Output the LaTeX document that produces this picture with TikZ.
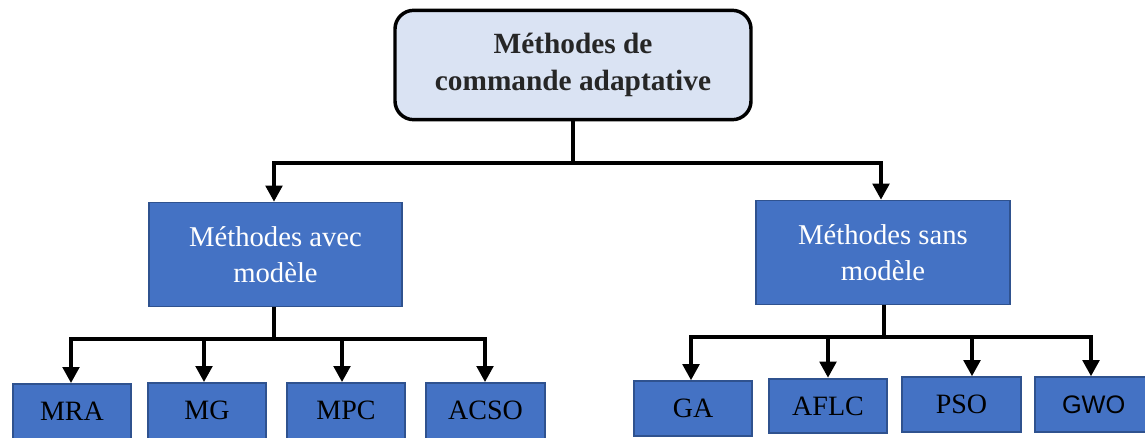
\documentclass[tikz,border=0pt]{standalone}
\usepackage{fontspec}
\setmainfont{Liberation Serif}
\newfontfamily\sansfont{Liberation Sans}
\usetikzlibrary{arrows.meta}
\definecolor{rootfill}{HTML}{DAE3F3}
\definecolor{boxfill}{HTML}{4472C4}
\definecolor{boxline}{HTML}{2F528F}
\begin{document}
\begin{tikzpicture}[x=0.75pt,y=-0.75pt,
  rootbox/.style={draw=black, fill=rootfill, line width=2.6pt, rounded corners=14pt,
    minimum width=267pt, minimum height=82pt, align=center,
    font=\fontsize{22pt}{27.5pt}\selectfont\bfseries, text=black!85},
  midbox/.style={draw=boxline, fill=boxfill, line width=1.3pt,
    minimum width=190pt, minimum height=78pt, align=center,
    font=\fontsize{21.5pt}{26.5pt}\selectfont, text=white},
  leafbox/.style={draw=boxline, fill=boxfill, line width=1.5pt,
    minimum width=89pt, minimum height=41pt, inner sep=0pt,
    font=\fontsize{21pt}{24pt}\selectfont, text=black},
  deepleaf/.style={leafbox, anchor=north, text height=27pt, text depth=22pt},
  link/.style={line width=2.4pt, draw=black},
  arr/.style={link, -{Triangle[width=12.5pt,length=12pt]}},
]
\useasboundingbox (0,0) rectangle (1145,437);
\fill[white] (0,0) rectangle (1145,437);

% root and the two families of methods
\node[rootbox] (root) at (573,65) {Méthodes de\\commande adaptative};
\node[midbox] (avec) at (275.5,254.5) {Méthodes avec\\modèle};
\node[midbox] (sans) at (883,252.5) {Méthodes sans\\modèle};

% methods with a model (boxes run past the lower edge)
\node[deepleaf] (mra)  at (72,383)    {MRA};
\node[deepleaf] (mg)   at (207,382)   {MG};
\node[deepleaf] (mpc)  at (346,382)   {MPC};
\node[deepleaf] (acso) at (485.5,382) {ACSO};

% methods without a model (the last box runs past the right edge)
\node[leafbox] (ga)   at (693,408.5) {GA};
\node[leafbox] (aflc) at (828,406)   {AFLC};
\node[leafbox] (pso)  at (961.5,404.5) {PSO};
\node[leafbox, minimum width=96pt, font=\fontsize{19pt}{23pt}\sansfont] (gwo) at (1099,404.5) {\hspace*{-8pt}GWO};

% connectors from the root
\coordinate (rj) at (573,163);
\draw[link] (root.south) -- (rj);
\draw[arr] (rj) -| (avec.north -| 274,0);
\draw[arr] (rj) -| (sans.north -| 881,0);

% connectors from "avec modèle"
\coordinate (aj) at (274,339);
\draw[link] (avec.south -| aj) -- (aj);
\draw[arr] (aj) -| (mra.north -| 71,0);
\draw[arr] (aj) -| (mg.north -| 204,0);
\draw[arr] (aj) -| (mpc.north -| 342,0);
\draw[arr] (aj) -| (acso.north -| 485,0);

% connectors from "sans modèle"
\coordinate (sj) at (884,337);
\draw[link] (sans.south -| sj) -- (sj);
\draw[arr] (sj) -| (ga.north -| 691,0);
\draw[arr] (sj) -| (aflc.north -| 828,0);
\draw[arr] (sj) -| (pso.north -| 972,0);
\draw[arr] (sj) -| (gwo.north -| 1091,0);
\end{tikzpicture}
\end{document}
